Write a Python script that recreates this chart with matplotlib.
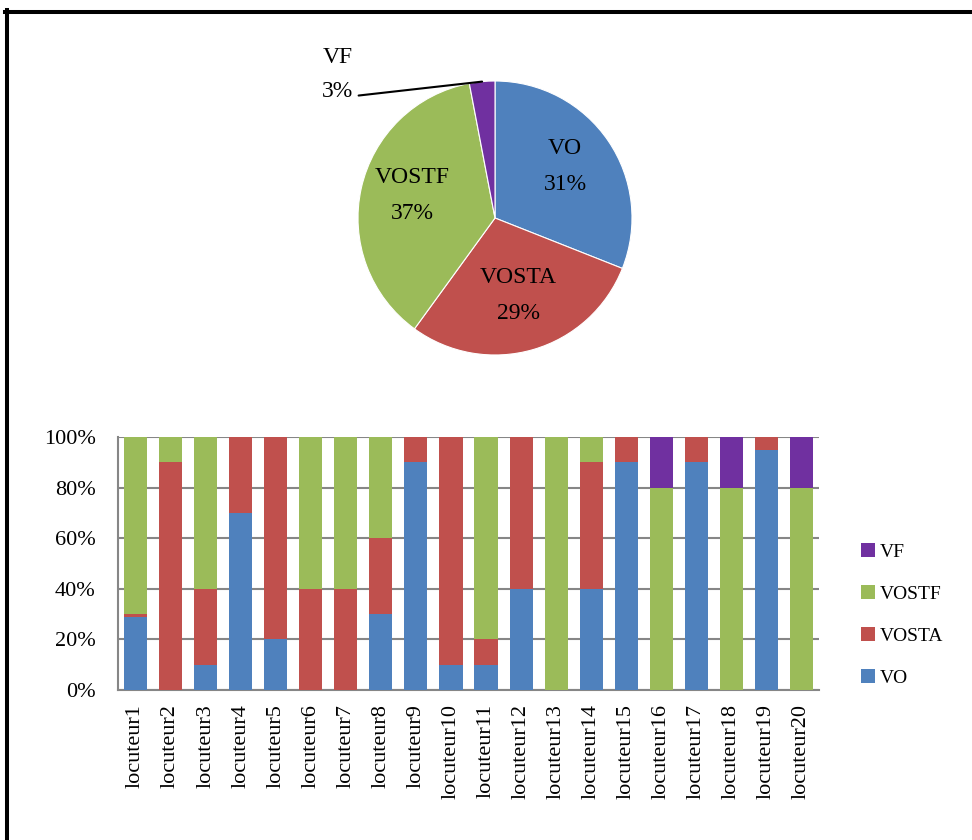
import numpy as np
import matplotlib
matplotlib.use('Agg')
import matplotlib.pyplot as plt
from matplotlib.lines import Line2D
from matplotlib.ticker import PercentFormatter

plt.rcParams['font.family'] = ['Liberation Serif', 'DejaVu Serif']

# pie data
pie_labels = ['VO', 'VOSTA', 'VOSTF', 'VF']
pie_values = [31, 29, 37, 3]

# stacked bar data (percent per speaker)
speakers = ['locuteur%d' % i for i in range(1, 21)]
vo =    [29, 0, 10, 70, 20, 0, 0, 30, 90, 10, 10, 40, 0, 40, 90, 0, 90, 0, 95, 0]
vosta = [1, 90, 30, 30, 80, 40, 40, 30, 10, 90, 10, 60, 0, 50, 10, 0, 10, 0, 5, 0]
vostf = [70, 10, 60, 0, 0, 60, 60, 40, 0, 0, 80, 0, 100, 10, 0, 80, 0, 80, 0, 80]
vf =    [0, 0, 0, 0, 0, 0, 0, 0, 0, 0, 0, 0, 0, 0, 0, 20, 0, 20, 0, 20]

colors = {'VO': '#4F81BD', 'VOSTA': '#C0504D', 'VOSTF': '#9BBB59', 'VF': '#7030A0'}

W, H = 972, 840
fig = plt.figure(figsize=(W / 100, H / 100), dpi=100)

# ---- pie ----
cx, cy, r = 495, 218, 137
ax_pie = fig.add_axes([(cx - r) / W, 1 - (cy + r) / H, 2 * r / W, 2 * r / H])
wedges, _ = ax_pie.pie(pie_values, colors=[colors[l] for l in pie_labels],
                       startangle=90, counterclock=False, radius=1,
                       wedgeprops=dict(linewidth=0.8, edgecolor='white'))
ax_pie.set_xlim(-1, 1)
ax_pie.set_ylim(-1, 1)
ax_pie.set_aspect('auto')
ax_pie.axis('off')

for w, lab, val in zip(wedges, pie_labels, pie_values):
    mid = np.deg2rad((w.theta1 + w.theta2) / 2)
    if lab == 'VF':
        px, py = np.cos(mid), np.sin(mid)
        ax_pie.text(-1.15, 1.17, 'VF', ha='center', va='center', fontsize=17)
        ax_pie.annotate('%d%%' % val, xy=(px, py), xytext=(-1.15, 0.92),
                        ha='center', va='center', fontsize=17,
                        arrowprops=dict(arrowstyle='-', color='black', lw=1.5,
                                        shrinkA=2, shrinkB=0, relpos=(1, 0.3)),
                        annotation_clip=False)
    else:
        rr = 0.62
        ax_pie.text(rr * np.cos(mid), rr * np.sin(mid) + 0.03, '%s\n%d%%' % (lab, val),
                    ha='center', va='center', fontsize=17, linespacing=1.95)

# ---- stacked bars ----
ax = fig.add_axes([118 / W, 1 - 690 / H, 701 / W, 253 / H])
x = np.arange(len(speakers))
bottom = np.zeros(len(speakers))
bars = {}
for name, vals in [('VO', vo), ('VOSTA', vosta), ('VOSTF', vostf), ('VF', vf)]:
    bars[name] = ax.bar(x, vals, 0.66, bottom=bottom, color=colors[name], label=name, zorder=3)
    bottom += np.array(vals)

ax.set_xlim(-0.5, len(speakers) - 0.5)
ax.set_ylim(0, 100)
ax.set_yticks(range(0, 101, 20))
ax.yaxis.set_major_formatter(PercentFormatter(decimals=0))
ax.set_xticks(x)
ax.set_xticklabels(speakers, rotation=90, fontsize=16)
ax.tick_params(axis='x', length=0, pad=10)
ax.tick_params(axis='y', length=0, pad=16, labelsize=16)
ax.grid(axis='y', color='#868686', lw=1.5, zorder=0)
for s in ['top', 'right']:
    ax.spines[s].set_visible(False)
for s in ['left', 'bottom']:
    ax.spines[s].set_color('#868686')
    ax.spines[s].set_linewidth(1.5)

handles = [bars[n] for n in ['VF', 'VOSTF', 'VOSTA', 'VO']]
fig.legend(handles, ['VF', 'VOSTF', 'VOSTA', 'VO'], loc='center left',
           bbox_to_anchor=(861 / W, 1 - 615 / H), frameon=False, fontsize=14,
           borderpad=0, borderaxespad=0, handlelength=0.7, handleheight=0.7,
           handletextpad=0.25, labelspacing=1.25)

# frame lines (top and left)
fig.add_artist(Line2D([5 / W, 1], [1 - 11.5 / H, 1 - 11.5 / H], color='black', lw=2.9,
                      transform=fig.transFigure))
fig.add_artist(Line2D([7 / W, 7 / W], [0, 1 - 10 / H], color='black', lw=2.9,
                      transform=fig.transFigure))

fig.savefig('out.png', dpi=100)
